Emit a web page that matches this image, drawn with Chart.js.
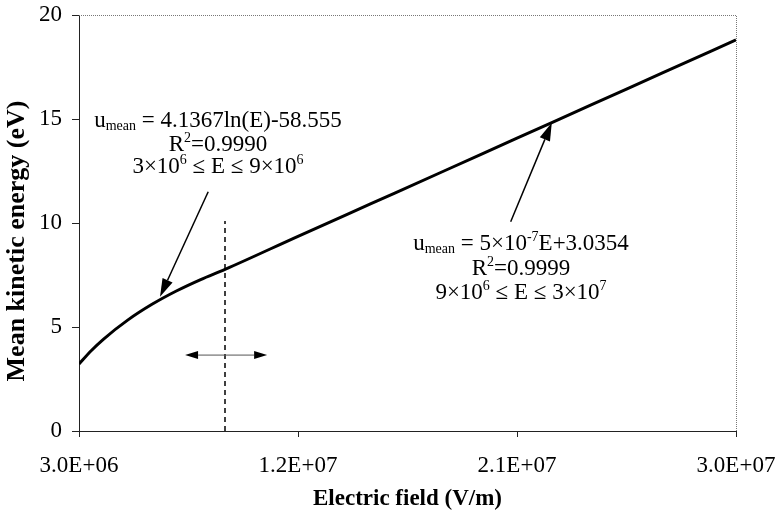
<!DOCTYPE html>
<html>
<head>
<meta charset="utf-8">
<script src="https://cdn.jsdelivr.net/npm/chart.js@4/dist/chart.umd.min.js"></script>
<style>
  html, body { margin: 0; padding: 0; background: #fff; }
  canvas { display: block; }
</style>
</head>
<body>
<canvas id="c" width="779" height="513"></canvas>
<script>
// Mean kinetic energy of electrons versus applied electric field
const fieldValues  = [3e6, 3.5e6, 4e6, 5e6, 6e6, 7e6, 8e6, 9e6, 1.2e7, 1.5e7, 1.8e7, 2.1e7, 2.4e7, 2.7e7, 3e7];
const energyValues = [3.22, 3.86, 4.41, 5.33, 6.09, 6.73, 7.28, 7.77, 9.36, 10.93, 12.5, 14.08, 15.65, 17.23, 18.8];

const xTickValues = [3e6, 1.2e7, 2.1e7, 3e7];
const xTickLabels = ['3.0E+06', '1.2E+07', '2.1E+07', '3.0E+07'];
const yTickValues = [0, 5, 10, 15, 20];
const yTickLabels = ['0', '5', '10', '15', '20'];

// boundary between the logarithmic and the linear fit
const boundaryField = [9e6, 9e6];
const boundaryEnergy = [0, 10.1];

// two-headed marker across the boundary
const spanField = [7.36e6, 10.73e6];
const spanEnergy = [3.65, 3.65];

// pointer arrows: [fromField, fromEnergy, toField, toEnergy]
const logPointer = [8.31e6, 11.5, 6.33e6, 6.46];
const linPointer = [2.074e7, 10.06, 2.243e7, 14.82];

// fit equations, written as runs of normal / subscript / superscript text
const logFitText = [
  [{t: 'u'}, {t: 'mean', sub: true}, {t: ' = 4.1367ln(E)-58.555'}],
  [{t: 'R'}, {t: '2', sup: true}, {t: '=0.9990'}],
  [{t: '3\u00D710'}, {t: '6', sup: true}, {t: ' \u2264 E \u2264 9\u00D710'}, {t: '6', sup: true}]
];
const linFitText = [
  [{t: 'u'}, {t: 'mean', sub: true}, {t: ' = 5\u00D710'}, {t: '-7', sup: true}, {t: 'E+3.0354'}],
  [{t: 'R'}, {t: '2', sup: true}, {t: '=0.9999'}],
  [{t: '9\u00D710'}, {t: '6', sup: true}, {t: ' \u2264 E \u2264 3\u00D710'}, {t: '7', sup: true}]
];

const yTitle = 'Mean kinetic energy (eV)';
const xTitle = 'Electric field (V/m)';

const SERIF = '"Liberation Serif", "Times New Roman", serif';
const BASE = 23;
const SMALL = 14;

function runFont(r) {
  return (r.sub || r.sup ? SMALL : BASE) + 'px ' + SERIF;
}

function drawRich(ctx, runs, cx, baseline) {
  let w = 0;
  runs.forEach(r => { ctx.font = runFont(r); w += ctx.measureText(r.t).width; });
  let x = cx - w / 2;
  ctx.textBaseline = 'alphabetic';
  ctx.textAlign = 'left';
  runs.forEach(r => {
    ctx.font = runFont(r);
    let y = baseline;
    if (r.sub) y += 3;
    if (r.sup) y -= 9;
    ctx.fillText(r.t, x, y);
    x += ctx.measureText(r.t).width;
  });
}

function arrow(ctx, x1, y1, x2, y2, len, half, lw, lineColor) {
  const a = Math.atan2(y2 - y1, x2 - x1);
  const bx = x2 - len * Math.cos(a), by = y2 - len * Math.sin(a);
  ctx.strokeStyle = lineColor;
  ctx.lineWidth = lw;
  ctx.beginPath();
  ctx.moveTo(x1, y1);
  ctx.lineTo(bx, by);
  ctx.stroke();
  ctx.fillStyle = '#000';
  ctx.beginPath();
  ctx.moveTo(x2, y2);
  ctx.lineTo(bx + half * Math.sin(a), by - half * Math.cos(a));
  ctx.lineTo(bx - half * Math.sin(a), by + half * Math.cos(a));
  ctx.closePath();
  ctx.fill();
}

const annotations = {
  id: 'annotations',
  afterDatasetsDraw(chart) {
    const {ctx, chartArea: a, scales: {x, y}} = chart;
    ctx.save();

    // dotted frame on the top and right sides
    ctx.strokeStyle = '#777';
    ctx.lineWidth = 1;
    ctx.setLineDash([1, 1]);
    ctx.beginPath();
    ctx.moveTo(a.left, a.top + 0.5);
    ctx.lineTo(a.right + 0.5, a.top + 0.5);
    ctx.lineTo(a.right + 0.5, a.bottom);
    ctx.stroke();
    ctx.setLineDash([]);

    // two-headed span marker
    const sx1 = x.getPixelForValue(spanField[0]), sx2 = x.getPixelForValue(spanField[1]);
    const sy = y.getPixelForValue(spanEnergy[0]);
    const mid = (sx1 + sx2) / 2;
    arrow(ctx, mid, sy, sx1, sy, 13, 4, 1, '#555');
    arrow(ctx, mid, sy, sx2, sy, 13, 4, 1, '#555');

    // pointers from the equations to the curve
    arrow(ctx, x.getPixelForValue(logPointer[0]), y.getPixelForValue(logPointer[1]),
               x.getPixelForValue(logPointer[2]), y.getPixelForValue(logPointer[3]), 18, 5.5, 1.5, '#000');
    arrow(ctx, x.getPixelForValue(linPointer[0]), y.getPixelForValue(linPointer[1]),
               x.getPixelForValue(linPointer[2]), y.getPixelForValue(linPointer[3]), 18, 5.5, 1.5, '#000');

    // equations
    ctx.fillStyle = '#000';
    const lx = a.left + 139, rx = a.left + 442;
    [126.5, 151, 173].forEach((b, i) => drawRich(ctx, logFitText[i], lx, b));
    [250, 275, 299].forEach((b, i) => drawRich(ctx, linFitText[i], rx, b));

    // vertical axis title, sitting a little below the middle of the axis
    ctx.translate(17, a.top + (a.bottom - a.top) / 2 + 18);
    ctx.rotate(-Math.PI / 2);
    ctx.font = 'bold 26px ' + SERIF;
    ctx.textAlign = 'center';
    ctx.textBaseline = 'middle';
    ctx.fillText(yTitle, 0, 0);

    ctx.restore();
  }
};

new Chart(document.getElementById('c'), {
  type: 'line',
  data: {
    datasets: [
      {
        data: fieldValues.map((e, i) => ({x: e, y: energyValues[i]})),
        borderColor: '#000',
        borderWidth: 3,
        pointRadius: 0,
        cubicInterpolationMode: 'monotone',
        fill: false
      },
      {
        data: boundaryField.map((e, i) => ({x: e, y: boundaryEnergy[i]})),
        borderColor: '#000',
        borderWidth: 1.5,
        borderDash: [5, 4],
        pointRadius: 0,
        fill: false
      }
    ]
  },
  options: {
    responsive: false,
    devicePixelRatio: 1,
    animation: false,
    layout: { padding: { top: 15, right: 43, left: 0, bottom: 0 } },
    plugins: { legend: { display: false }, tooltip: { enabled: false } },
    scales: {
      x: {
        type: 'linear',
        min: 3e6,
        max: 3e7,
        afterBuildTicks: s => { s.ticks = xTickValues.map(v => ({value: v})); },
        afterFit: s => { s.height = 82; s.paddingLeft = 0; s.paddingRight = 0; },
        ticks: {
          callback: v => xTickLabels[xTickValues.indexOf(v)],
          color: '#000',
          font: { family: SERIF, size: BASE },
          padding: 15,
          maxRotation: 0
        },
        grid: { drawOnChartArea: false, drawTicks: true, tickLength: 6, color: '#222' },
        border: { display: true, color: '#222', width: 1 },
        title: {
          display: true,
          text: xTitle,
          color: '#000',
          font: { family: SERIF, size: BASE, weight: 'bold' },
          padding: { top: 0, bottom: 0 }
        }
      },
      y: {
        min: 0,
        max: 20,
        afterBuildTicks: s => { s.ticks = yTickValues.map(v => ({value: v})); },
        afterFit: s => { s.width = 79; s.paddingTop = 0; s.paddingBottom = 0; },
        ticks: {
          callback: v => yTickLabels[yTickValues.indexOf(v)],
          color: '#000',
          font: { family: SERIF, size: BASE },
          padding: 10
        },
        grid: { drawOnChartArea: false, drawTicks: true, tickLength: 7, color: '#222' },
        border: { display: true, color: '#222', width: 1 }
      }
    }
  },
  plugins: [annotations]
});
</script>
</body>
</html>
